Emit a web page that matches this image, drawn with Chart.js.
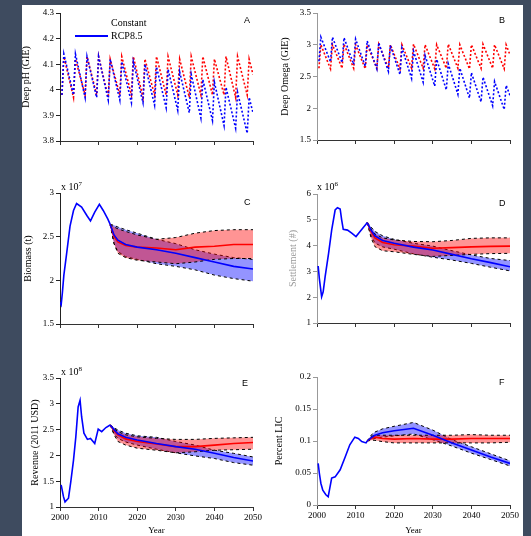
<!DOCTYPE html>
<html>
<head>
<meta charset="utf-8">
<script src="https://cdn.jsdelivr.net/npm/chart.js@4.4.1/dist/chart.umd.min.js"></script>
<style>
  html, body { margin: 0; padding: 0; width: 531px; height: 536px; overflow: hidden; background: #3e4b5f; }
  #sheet { position: absolute; left: 22px; top: 5px; width: 501px; height: 531px; background: #fff; }
  canvas { position: absolute; }
  .lab { position: absolute; font-family: "Liberation Serif", serif; font-size: 10px; color: #000; white-space: nowrap; line-height: 12px; }
  .lab sup { font-size: 7px; }
  .letter { position: absolute; font-family: "Liberation Sans", sans-serif; font-size: 9px; color: #000; line-height: 10px; }
  .key { position: absolute; height: 2px; background: #0000ff; }
</style>
</head>
<body>
<div id="sheet"></div>
<canvas id="cA" width="247" height="150" style="left:18px;top:5px"></canvas>
<canvas id="cB" width="252" height="150" style="left:270px;top:5px"></canvas>
<canvas id="cC" width="247" height="175" style="left:18px;top:165px"></canvas>
<canvas id="cD" width="252" height="175" style="left:270px;top:165px"></canvas>
<canvas id="cE" width="247" height="191" style="left:18px;top:345px"></canvas>
<canvas id="cF" width="252" height="191" style="left:270px;top:345px"></canvas>

<div class="lab" style="left:111px;top:17px">Constant</div>
<div class="key" style="left:75px;top:35px;width:33px"></div>
<div class="lab" style="left:111px;top:30px">RCP8.5</div>

<div class="letter" style="left:244px;top:15px">A</div>
<div class="letter" style="left:499px;top:15px">B</div>
<div class="letter" style="left:244px;top:197px">C</div>
<div class="letter" style="left:499px;top:198px">D</div>
<div class="letter" style="left:242px;top:378px">E</div>
<div class="letter" style="left:499px;top:377px">F</div>

<div class="lab" style="left:61px;top:178px">x 10<sup>7</sup></div>
<div class="lab" style="left:317px;top:178px">x 10<sup>6</sup></div>
<div class="lab" style="left:61px;top:363px">x 10<sup>8</sup></div>

<script>
// deep-water chemistry, sawtooth samples
const oscYears = [2000.5, 2001, 2003.5, 2004, 2006.5, 2007, 2009.5, 2010, 2012.5, 2013, 2015.5, 2016,
  2018.5, 2019, 2021.5, 2022, 2024.5, 2025, 2027.5, 2028, 2030.5, 2031, 2033.5, 2034, 2036.5, 2037,
  2039.5, 2040, 2042.5, 2043, 2045.5, 2046, 2048.5, 2049, 2050];
const phConstant = [3.98, 4.13, 3.97, 4.12, 3.98, 4.13, 3.98, 4.13, 3.97, 4.12, 3.98, 4.13, 3.98, 4.13,
  3.97, 4.12, 3.98, 4.13, 3.98, 4.13, 3.98, 4.12, 3.97, 4.13, 3.98, 4.13, 3.98, 4.12, 3.98, 4.13,
  3.97, 4.13, 3.98, 4.12, 4.06];
const phRcp = [3.98, 4.14, 3.98, 4.14, 3.97, 4.13, 3.97, 4.13, 3.96, 4.12, 3.96, 4.11, 3.95, 4.11,
  3.95, 4.10, 3.94, 4.09, 3.93, 4.08, 3.92, 4.07, 3.91, 4.06, 3.89, 4.04, 3.88, 4.03, 3.86, 4.01,
  3.85, 3.99, 3.83, 3.97, 3.91];
const omegaConstant = [2.63, 3.00, 2.62, 3.00, 2.63, 3.01, 2.63, 3.00, 2.62, 3.00, 2.63, 3.01, 2.63, 3.00,
  2.62, 3.00, 2.63, 3.01, 2.63, 3.00, 2.62, 3.00, 2.63, 3.01, 2.63, 3.00, 2.62, 3.00, 2.63, 3.01,
  2.63, 3.00, 2.62, 3.00, 2.84];
const omegaRcp = [2.74, 3.12, 2.73, 3.12, 2.72, 3.11, 2.69, 3.09, 2.66, 3.06, 2.62, 3.03, 2.58, 2.99,
  2.53, 2.95, 2.47, 2.90, 2.41, 2.83, 2.35, 2.77, 2.29, 2.70, 2.22, 2.63, 2.16, 2.56, 2.10, 2.49,
  2.04, 2.42, 1.98, 2.36, 2.20];

// projections (mean and envelope), shared years
const projYears = [2013, 2014, 2015, 2017, 2020, 2025, 2030, 2035, 2040, 2045, 2050];

// C: biomass x1e7
const bioYears = [2000, 2000.3, 2000.6, 2001, 2001.7, 2002.6, 2003.5, 2004.3, 2005.6, 2007, 2007.9, 2009, 2010.2, 2011.2, 2012.4, 2013];
const bioHist = [1.75, 1.72, 1.85, 2.06, 2.30, 2.62, 2.80, 2.88, 2.84, 2.74, 2.68, 2.78, 2.87, 2.80, 2.70, 2.64];
const bioConstMean = [2.64, 2.50, 2.44, 2.40, 2.38, 2.37, 2.35, 2.38, 2.39, 2.41, 2.41];
const bioConstUp = [2.64, 2.61, 2.59, 2.56, 2.52, 2.47, 2.49, 2.54, 2.57, 2.58, 2.58];
const bioConstLo = [2.64, 2.42, 2.31, 2.26, 2.23, 2.21, 2.19, 2.21, 2.24, 2.25, 2.25];
const bioRcpMean = [2.64, 2.52, 2.46, 2.41, 2.38, 2.35, 2.31, 2.26, 2.21, 2.16, 2.13];
const bioRcpUp = [2.64, 2.63, 2.61, 2.58, 2.54, 2.47, 2.42, 2.35, 2.30, 2.26, 2.24];
const bioRcpLo = [2.64, 2.42, 2.33, 2.27, 2.24, 2.19, 2.16, 2.12, 2.06, 2.02, 1.99];

// D: settlement x1e6
const setlYears = [2000.3, 2000.6, 2001.2, 2001.6, 2002.1, 2003, 2003.8, 2004.7, 2005.3, 2006, 2006.4, 2006.8, 2007.9, 2009, 2010.1, 2011.1, 2013];
const setlHist = [3.21, 2.73, 2.02, 2.21, 2.79, 3.70, 4.60, 5.38, 5.47, 5.42, 4.99, 4.63, 4.60, 4.48, 4.35, 4.54, 4.89];
const setlConstMean = [4.89, 4.55, 4.30, 4.12, 4.03, 3.98, 3.90, 3.92, 3.95, 3.97, 3.98];
const setlConstUp = [4.89, 4.65, 4.45, 4.30, 4.22, 4.16, 4.15, 4.20, 4.28, 4.30, 4.30];
const setlConstLo = [4.89, 4.30, 3.96, 3.80, 3.76, 3.66, 3.58, 3.62, 3.66, 3.69, 3.70];
const setlRcpMean = [4.89, 4.60, 4.38, 4.20, 4.09, 3.94, 3.83, 3.66, 3.49, 3.34, 3.18];
const setlRcpUp = [4.89, 4.72, 4.55, 4.38, 4.24, 4.09, 3.98, 3.80, 3.64, 3.50, 3.42];
const setlRcpLo = [4.89, 4.40, 4.10, 3.95, 3.86, 3.68, 3.55, 3.44, 3.31, 3.16, 3.02];

// E: revenue x1e8
const revYears = [2000.3, 2000.9, 2001.3, 2002.2, 2002.8, 2003.5, 2004.1, 2004.7, 2005.2, 2005.6, 2006.2, 2007.1, 2007.9, 2009, 2009.9, 2010.8, 2011.9, 2013];
const revHist = [1.43, 1.20, 1.10, 1.17, 1.49, 1.91, 2.36, 2.94, 3.07, 2.75, 2.43, 2.31, 2.33, 2.23, 2.51, 2.46, 2.54, 2.59];
const revConstMean = [2.59, 2.48, 2.40, 2.32, 2.27, 2.22, 2.17, 2.17, 2.20, 2.23, 2.25];
const revConstUp = [2.59, 2.52, 2.46, 2.40, 2.36, 2.33, 2.31, 2.31, 2.33, 2.34, 2.35];
const revConstLo = [2.59, 2.40, 2.27, 2.20, 2.14, 2.10, 2.05, 2.07, 2.10, 2.11, 2.12];
const revRcpMean = [2.59, 2.50, 2.42, 2.35, 2.30, 2.23, 2.17, 2.12, 2.04, 1.96, 1.89];
const revRcpUp = [2.59, 2.54, 2.49, 2.43, 2.38, 2.35, 2.27, 2.20, 2.10, 2.04, 1.97];
const revRcpLo = [2.59, 2.42, 2.33, 2.26, 2.20, 2.12, 2.05, 1.99, 1.94, 1.86, 1.81];

// F: percent LIC
const licYears = [2000.3, 2000.6, 2001, 2001.5, 2002.3, 2002.9, 2003.4, 2003.8, 2004.7, 2006, 2007.3, 2008.5, 2009.8, 2010.7, 2011.6, 2012.7, 2013];
const licHist = [0.065, 0.050, 0.034, 0.023, 0.016, 0.013, 0.029, 0.042, 0.044, 0.055, 0.075, 0.094, 0.106, 0.104, 0.099, 0.097, 0.100];
const licConstMean = [0.100, 0.104, 0.106, 0.104, 0.103, 0.104, 0.103, 0.103, 0.104, 0.104, 0.104];
const licConstUp = [0.100, 0.107, 0.109, 0.109, 0.109, 0.109, 0.109, 0.109, 0.110, 0.109, 0.109];
const licConstLo = [0.100, 0.101, 0.101, 0.099, 0.097, 0.097, 0.097, 0.097, 0.097, 0.097, 0.098];
const licRcpMean = [0.100, 0.105, 0.109, 0.113, 0.116, 0.120, 0.109, 0.097, 0.086, 0.075, 0.065];
const licRcpUp = [0.100, 0.109, 0.114, 0.119, 0.123, 0.129, 0.117, 0.102, 0.091, 0.080, 0.069];
const licRcpLo = [0.100, 0.102, 0.104, 0.106, 0.108, 0.111, 0.102, 0.092, 0.081, 0.071, 0.061];

const serif = '"Liberation Serif", "Times New Roman", serif';
Chart.defaults.font.family = serif;
Chart.defaults.color = '#000';
Chart.defaults.animation = false;

function xy(xs, ys) {
  return xs.map((x, i) => ({ x: x, y: ys[i] }));
}

// plain tick text: 4 not 4.0, 2000 not 2,000
function plain(v) {
  return String(+v.toFixed(4));
}

function xAxis(labels, height) {
  return {
    type: 'linear', min: 2000, max: 2050,
    ticks: { stepSize: 10, display: labels, font: { size: 9 }, padding: 1, maxRotation: 0, callback: plain },
    grid: { drawOnChartArea: false, drawTicks: true, tickLength: 4, tickColor: '#333' },
    border: { display: true, color: '#333' },
    title: { display: labels, text: 'Year', font: { size: 9 }, padding: { top: 0, bottom: 0 } },
    afterFit: s => { s.height = height; }
  };
}

function yAxis(min, max, step, text, titlePad, width, axisColor, titleColor) {
  return {
    type: 'linear', min: min, max: max,
    ticks: { stepSize: step, font: { size: 9 }, padding: 2, callback: plain },
    grid: { drawOnChartArea: false, drawTicks: true, tickLength: 4, tickColor: axisColor },
    border: { display: true, color: axisColor },
    title: { display: true, text: text, color: titleColor, font: { size: 10 }, padding: { top: titlePad, bottom: 0 } },
    afterFit: s => { s.width = width; }
  };
}

function baseOptions(pad, x, y) {
  return {
    responsive: false,
    layout: { padding: pad },
    plugins: { legend: { display: false }, tooltip: { enabled: false } },
    elements: { point: { radius: 0 }, line: { tension: 0 } },
    scales: { x: x, y: y }
  };
}

function oscChart(id, rcpVals, constVals, opts) {
  new Chart(document.getElementById(id), {
    type: 'line',
    data: {
      datasets: [
        { data: xy(oscYears, rcpVals), borderColor: '#0000ff', borderWidth: 1.6, borderDash: [2, 2] },
        { data: xy(oscYears, constVals), borderColor: '#ff0000', borderWidth: 1.6, borderDash: [2, 2] }
      ]
    },
    options: opts
  });
}

function bandChart(id, hy, hv, s, opts) {
  const edge = { borderColor: '#000', borderWidth: 1, borderDash: [3, 3] };
  new Chart(document.getElementById(id), {
    type: 'line',
    data: {
      datasets: [
        { data: xy(hy, hv), borderColor: '#0000ff', borderWidth: 1.6, order: 0 },
        { data: xy(projYears, s.rcpMean), borderColor: '#0000ff', borderWidth: 1.6, order: 0 },
        { data: xy(projYears, s.constMean), borderColor: '#ff0000', borderWidth: 1.6, order: 0 },
        Object.assign({ data: xy(projYears, s.constLo), fill: false, order: 1 }, edge),
        Object.assign({ data: xy(projYears, s.constUp), fill: '-1', backgroundColor: 'rgba(255,0,0,0.42)', order: 1 }, edge),
        Object.assign({ data: xy(projYears, s.rcpLo), fill: false, order: 2 }, edge),
        Object.assign({ data: xy(projYears, s.rcpUp), fill: '-1', backgroundColor: 'rgba(0,0,255,0.42)', order: 2 }, edge)
      ]
    },
    options: opts
  });
}

oscChart('cA', phRcp, phConstant,
  baseOptions({ top: 8, right: 12, bottom: 0, left: 0 }, xAxis(false, 14),
    yAxis(3.8, 4.3, 0.1, 'Deep pH (GIE)', 2, 42, '#222', '#000')));
oscChart('cB', omegaRcp, omegaConstant,
  baseOptions({ top: 8, right: 12, bottom: 0, left: 0 }, xAxis(false, 15),
    yAxis(1.5, 3.5, 0.5, 'Deep Omega (GIE)', 9, 47, '#999', '#000')));

bandChart('cC', bioYears, bioHist,
  { constMean: bioConstMean, constUp: bioConstUp, constLo: bioConstLo, rcpMean: bioRcpMean, rcpUp: bioRcpUp, rcpLo: bioRcpLo },
  baseOptions({ top: 28, right: 12, bottom: 0, left: 0 }, xAxis(false, 16),
    yAxis(1.5, 3, 0.5, 'Biomass (t)', 4, 42, '#222', '#000')));
bandChart('cD', setlYears, setlHist,
  { constMean: setlConstMean, constUp: setlConstUp, constLo: setlConstLo, rcpMean: setlRcpMean, rcpUp: setlRcpUp, rcpLo: setlRcpLo },
  baseOptions({ top: 29, right: 12, bottom: 0, left: 0 }, xAxis(false, 17),
    yAxis(1, 6, 1, 'Settlement (#)', 17, 47, '#999', '#999')));
bandChart('cE', revYears, revHist,
  { constMean: revConstMean, constUp: revConstUp, constLo: revConstLo, rcpMean: revRcpMean, rcpUp: revRcpUp, rcpLo: revRcpLo },
  baseOptions({ top: 33, right: 12, bottom: 0, left: 0 }, xAxis(true, 29),
    yAxis(1, 3.5, 0.5, 'Revenue (2011 USD)', 11, 42, '#222', '#000')));
bandChart('cF', licYears, licHist,
  { constMean: licConstMean, constUp: licConstUp, constLo: licConstLo, rcpMean: licRcpMean, rcpUp: licRcpUp, rcpLo: licRcpLo },
  baseOptions({ top: 32, right: 12, bottom: 0, left: 0 }, xAxis(true, 31),
    yAxis(0, 0.2, 0.05, 'Percent LIC', 3, 47, '#999', '#000')));
</script>
</body>
</html>
